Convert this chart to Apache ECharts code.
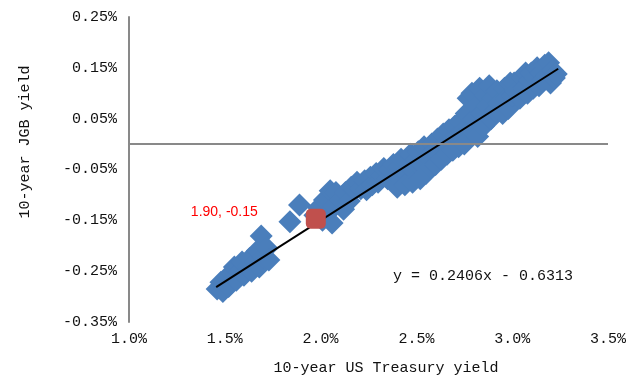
<!DOCTYPE html>
<html><head><meta charset="utf-8">
<script src="https://cdn.jsdelivr.net/npm/echarts@6/dist/echarts.min.js"></script>
<style>html,body{margin:0;padding:0;background:#fff}#c{width:638px;height:378px}</style>
</head><body><div id="c"></div>
<script>
// Axis ranges / ticks
const xMin = 1.0, xMax = 3.5, xStep = 0.5;
const yMin = -0.35, yMax = 0.25, yStep = 0.1;

// Blue scatter: 10-year US Treasury yield (%) vs 10-year JGB yield (%)
const blueX = [
  1.46,1.48,1.49,1.51,1.52,1.54,1.55,1.56,1.58,1.59,1.60,1.62,1.63,1.64,1.66,1.67,1.68,1.69,1.70,1.72,1.73,
  1.84,1.89,1.97,1.99,2.01,2.02,2.04,2.05,2.06,2.07,2.08,2.10,2.12,2.13,2.15,2.16,
  2.18,2.19,2.21,2.23,2.24,2.26,2.27,2.29,2.30,2.32,2.33,2.35,2.36,2.38,2.39,2.40,2.41,2.42,2.44,2.44,2.45,2.47,2.48,2.48,2.50,
  2.51,2.52,2.53,2.54,2.55,2.56,2.57,2.58,2.59,2.60,2.61,2.62,2.63,2.64,2.65,2.66,2.67,2.68,2.69,2.70,2.71,2.72,2.73,2.74,
  2.75,2.76,2.77,2.78,2.79,2.80,2.81,2.82,2.83,2.84,2.85,2.86,2.87,2.88,2.89,2.90,2.91,2.92,2.93,2.95,2.96,2.97,2.98,2.99,
  3.00,3.01,3.02,3.04,3.05,3.06,3.07,3.08,3.09,3.10,3.11,3.12,3.13,3.14,3.15,3.16,3.17,3.18,3.19,3.20,3.21,3.22,3.23
];
const blueY = [
  -0.285,-0.272,-0.290,-0.262,-0.280,-0.255,-0.242,-0.268,-0.250,-0.232,-0.258,-0.240,-0.225,-0.250,-0.232,-0.210,-0.242,-0.181,-0.222,-0.205,-0.228,
  -0.153,-0.120,-0.140,-0.125,-0.150,-0.110,-0.135,-0.092,-0.155,-0.122,-0.095,-0.110,-0.128,-0.095,-0.112,-0.085,
  -0.090,-0.075,-0.088,-0.072,-0.090,-0.065,-0.080,-0.058,-0.075,-0.062,-0.048,-0.068,-0.050,-0.040,-0.060,-0.085,-0.045,-0.030,-0.055,-0.080,-0.035,-0.020,-0.050,-0.075,-0.030,
  -0.015,-0.068,-0.040,-0.005,-0.058,-0.025,-0.045,0.000,-0.015,-0.040,0.010,-0.020,-0.030,0.020,0.000,-0.020,0.028,0.008,-0.012,0.035,0.015,-0.005,0.045,0.025,
  0.000,0.060,0.090,0.030,0.100,0.050,0.075,0.015,0.110,0.060,0.035,0.095,0.075,0.115,0.050,0.090,0.065,0.105,0.080,0.060,0.110,0.090,0.070,0.120,
  0.095,0.120,0.105,0.090,0.130,0.110,0.140,0.100,0.125,0.140,0.110,0.130,0.150,0.115,0.140,0.125,0.155,0.135,0.160,0.120,0.145,0.130,0.138
];

// Highlighted point
const redX = [1.975];
const redY = [-0.147];
const redLabel = '1.90, -0.15';

// Linear trend: y = 0.2406x - 0.6313
const trendSlope = 0.2406, trendIntercept = -0.6313;
const trendX = [1.455, 3.24];
const trendText = 'y = 0.2406x - 0.6313';

const mono = '"Liberation Mono","DejaVu Sans Mono",monospace';

const chart = echarts.init(document.getElementById('c'), null, {renderer: 'canvas'});
chart.setOption({
  animation: false,
  backgroundColor: '#fff',
  grid: {left: 129, right: 30, top: 17, bottom: 56, containLabel: false, outerBoundsMode: 'none'},
  xAxis: {
    type: 'value', min: xMin, max: xMax, interval: xStep,
    axisLine: {show: false}, axisTick: {show: false}, splitLine: {show: false},
    axisLabel: {margin: 10, fontFamily: mono, fontSize: 15, color: '#111',
      showMinLabel: true, showMaxLabel: true,
      formatter: v => v.toFixed(1) + '%'}
  },
  yAxis: {
    type: 'value', min: yMin, max: yMax, interval: yStep,
    axisLine: {show: true, onZero: false, lineStyle: {color: '#898989', width: 2}},
    axisTick: {show: false}, splitLine: {show: false},
    axisLabel: {margin: 12, fontFamily: mono, fontSize: 15, color: '#111',
      showMinLabel: true, showMaxLabel: true,
      formatter: v => v.toFixed(2) + '%'}
  },
  graphic: [
    {type: 'text', x: 386, y: 368, style: {text: '10-year US Treasury yield', font: '15px ' + mono, fill: '#111', textAlign: 'center', textVerticalAlign: 'middle'}},
    {type: 'text', x: 25, y: 142, rotation: Math.PI / 2, style: {text: '10-year JGB yield', font: '15px ' + mono, fill: '#111', textAlign: 'center', textVerticalAlign: 'middle'}},
    {type: 'text', x: 393, y: 276, style: {text: trendText, font: '15px ' + mono, fill: '#111', textAlign: 'left', textVerticalAlign: 'middle'}}
  ],
  series: [
    {
      type: 'scatter', symbol: 'diamond', symbolSize: 23,
      itemStyle: {color: '#4A7EBB', opacity: 1},
      data: blueX.map((x, i) => [x, blueY[i]]),
      markLine: {
        silent: true, symbol: 'none', label: {show: false},
        lineStyle: {color: '#898989', width: 2, type: 'solid'},
        data: [{yAxis: 0}]
      },
      z: 2
    },
    {
      type: 'line', symbol: 'none', silent: true,
      lineStyle: {color: '#000', width: 2},
      data: trendX.map(x => [x, trendSlope * x + trendIntercept]),
      z: 3
    },
    {
      type: 'scatter', symbol: 'roundRect', symbolSize: 20,
      itemStyle: {color: '#C0504D', opacity: 1},
      label: {show: true, position: 'left', distance: 48, offset: [0, -7],
        formatter: () => redLabel, color: '#FF0000', fontSize: 14,
        fontFamily: '"Liberation Sans",Arial,sans-serif'},
      data: redX.map((x, i) => [x, redY[i]]),
      z: 4
    }
  ]
});
</script>
</body></html>
